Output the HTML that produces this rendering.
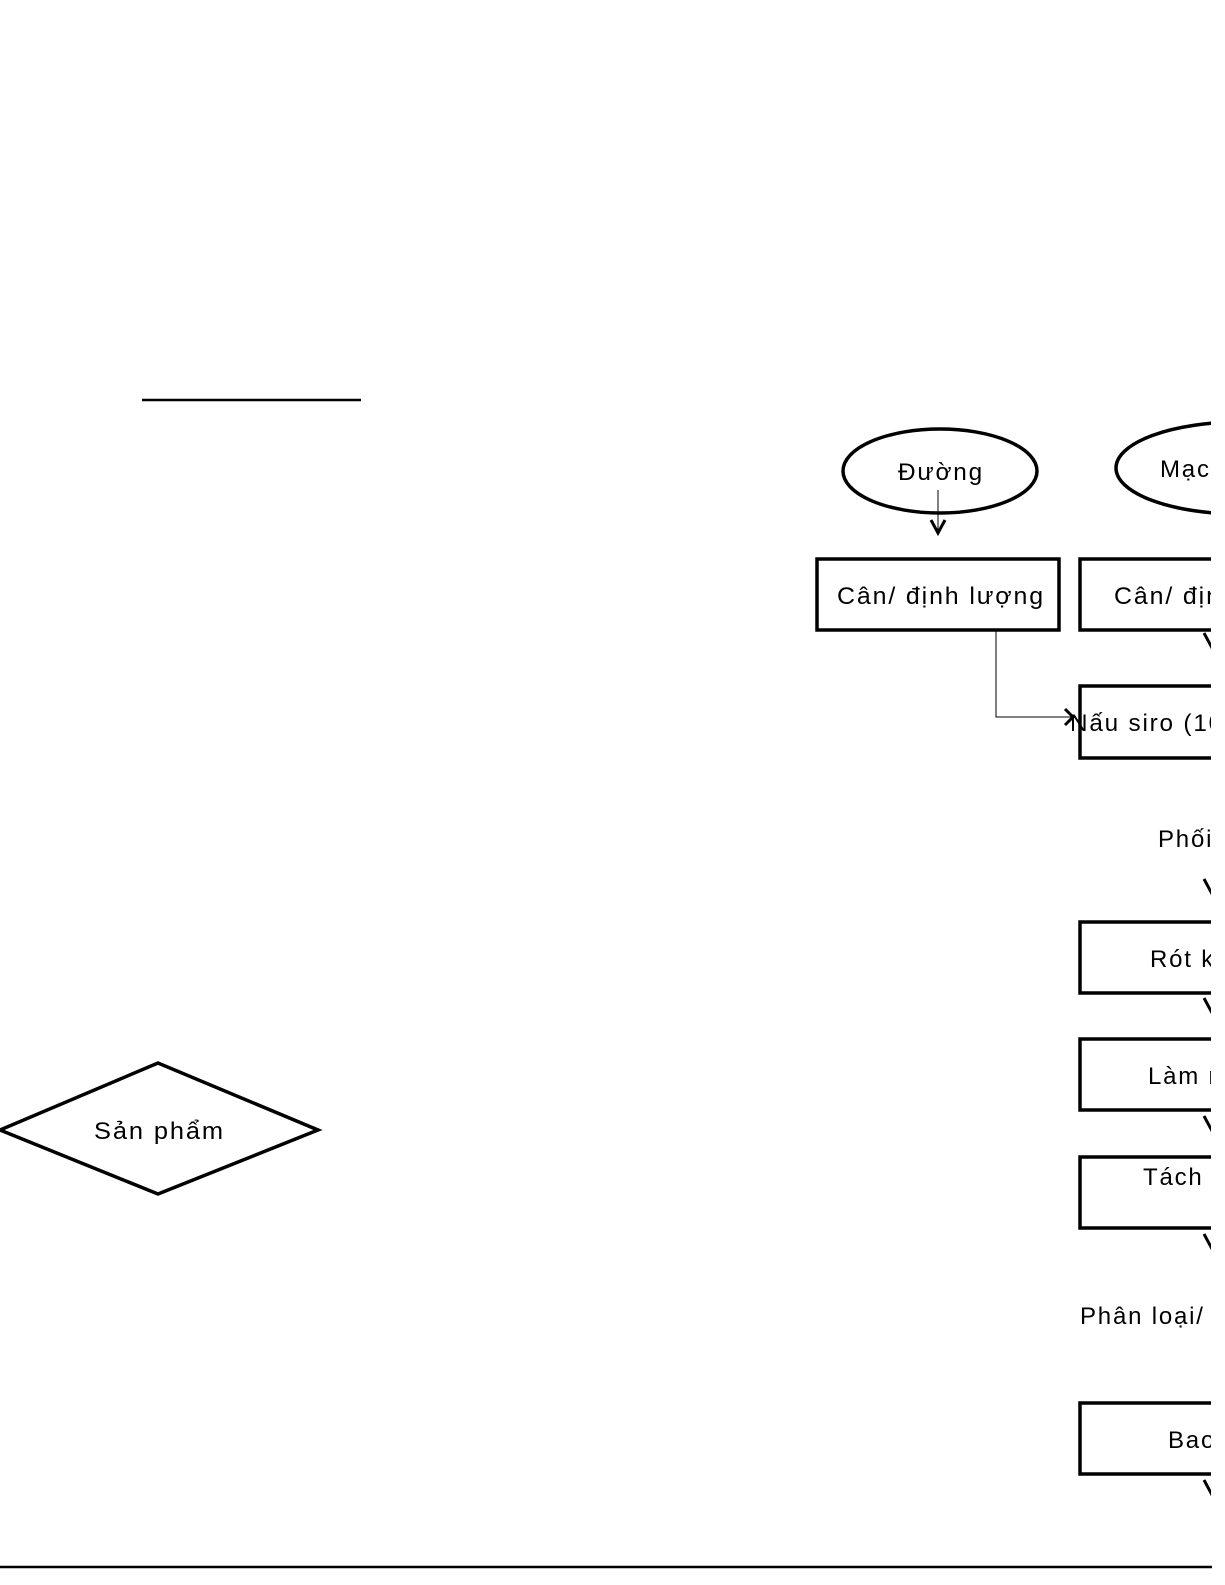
<!DOCTYPE html>
<html><head><meta charset="utf-8"><style>
html,body{margin:0;padding:0;background:#fff;}
svg{display:block;}
text{font-family:"Liberation Sans",sans-serif;font-size:24px;fill:#000;letter-spacing:1.8px;}
</style></head><body>
<svg width="1225" height="1585" viewBox="0 0 1225 1585">
<defs><clipPath id="c"><rect x="0" y="0" width="1211" height="1585"/></clipPath></defs>
<line x1="142" y1="400" x2="361" y2="400" stroke="#000" stroke-width="2.5"/>
<g clip-path="url(#c)" fill="none" stroke="#000">
<ellipse cx="940" cy="471" rx="97" ry="42" stroke-width="3.5"/>
<ellipse cx="1240" cy="468" rx="124" ry="46" stroke-width="3.5"/>
<rect x="817" y="559" width="242" height="71" stroke-width="3.5"/>
<rect x="1080" y="559" width="200" height="71" stroke-width="3.5"/>
<rect x="1080" y="686" width="200" height="72" stroke-width="3.5"/>
<rect x="1080" y="922" width="200" height="71" stroke-width="3.5"/>
<rect x="1080" y="1039" width="200" height="71" stroke-width="3.5"/>
<rect x="1080" y="1157" width="200" height="71" stroke-width="3.5"/>
<rect x="1080" y="1403" width="200" height="71" stroke-width="3.5"/>
<line x1="938" y1="490" x2="938" y2="530" stroke-width="1"/>
<polyline points="931,520 938,533 945,520" stroke-width="3"/>
<polyline points="996,630 996,717 1073,717" stroke-width="1"/>
<polyline points="1065,709 1073,717 1065,725" stroke-width="3"/>
<g stroke-width="3">
<polyline points="1204,633 1211,646 1218,633"/>
<polyline points="1204,879 1211,892 1218,879"/>
<polyline points="1204,998 1211,1011 1218,998"/>
<polyline points="1204,1116 1211,1129 1218,1116"/>
<polyline points="1204,1234 1211,1247 1218,1234"/>
<polyline points="1204,1480 1211,1493 1218,1480"/>
</g>
<polygon points="0,1130 158,1063 318,1130 158,1194" stroke-width="3.5"/>
</g>
<line x1="0" y1="1567" x2="1212" y2="1567" stroke="#000" stroke-width="2.5"/>
<g clip-path="url(#c)">
<text x="898" y="480" textLength="86" lengthAdjust="spacingAndGlyphs">Đường</text>
<text x="1160" y="477">Mạch</text>
<text x="837" y="604" textLength="208" lengthAdjust="spacingAndGlyphs">Cân/ định lượng</text>
<text x="1114" y="604" textLength="208" lengthAdjust="spacingAndGlyphs">Cân/ định lượng</text>
<text x="1070" y="731" textLength="210" lengthAdjust="spacingAndGlyphs">Nấu siro (100°C)</text>
<text x="1158" y="847">Phối trộn</text>
<text x="1150" y="967">Rót khuôn</text>
<text x="1148" y="1084">Làm nguội</text>
<text x="1143" y="1185">Tách khuôn</text>
<text x="1080" y="1324">Phân loại/ kiểm tra</text>
<text x="1168" y="1448">Bao gói</text>
<text x="94" y="1139" textLength="131" lengthAdjust="spacingAndGlyphs">Sản phẩm</text>
</g>
</svg>
</body></html>
